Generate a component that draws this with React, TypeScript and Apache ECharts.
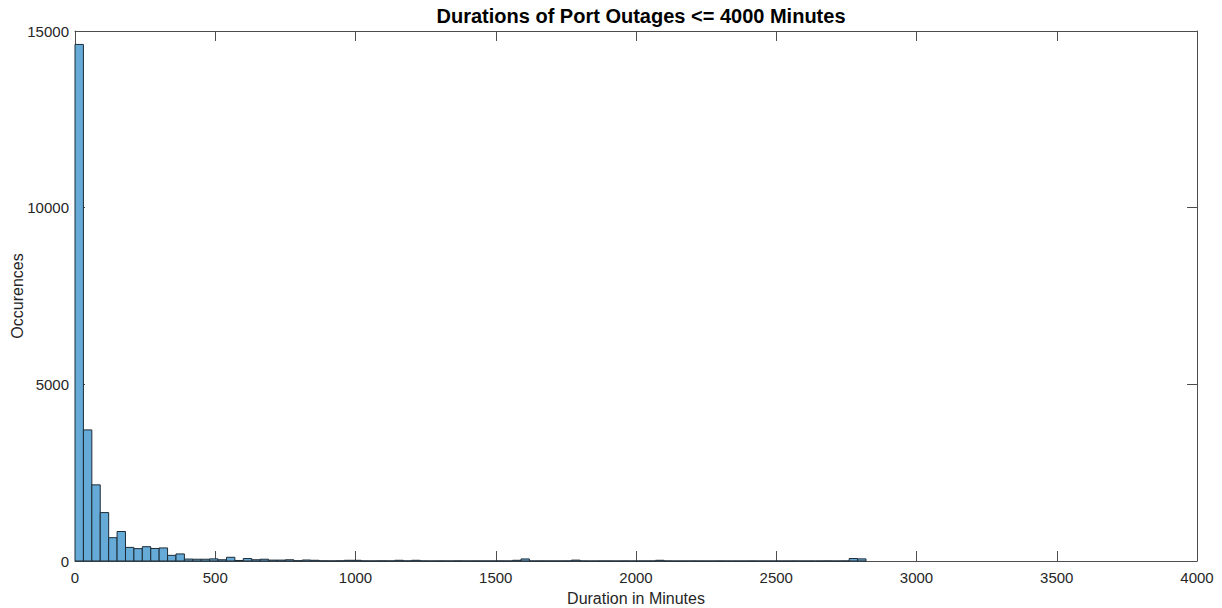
import React, { useEffect, useRef } from "react";
import * as echarts from "echarts";

// Histogram of outage durations, 30-minute bins starting at 0.
const BIN_WIDTH = 30;
const counts: number[] = [
  14620, 3710, 2155, 1370, 660, 835, 385, 350, 405, 355,
  370, 160, 200, 55, 50, 50, 60, 35, 105, 15,
  70, 35, 50, 25, 25, 35, 8, 28, 20, 4,
  3, 5, 20, 20, 3, 2, 4, 2, 20, 3,
  20, 2, 1, 2, 1, 3, 1, 2, 1, 1,
  2, 1, 20, 58, 1, 2, 1, 1, 2, 25,
  1, 0, 1, 1, 0, 1, 0, 1, 1, 20,
  1, 0, 0, 1, 0, 0, 1, 0, 0, 0,
  1, 0, 0, 0, 0, 1, 0, 0, 0, 1,
  0, 1, 70, 60,
];

const xTicks = [0, 500, 1000, 1500, 2000, 2500, 3000, 3500, 4000];
const yTicks = [0, 5000, 10000, 15000];

const TITLE = "Durations of Port Outages <= 4000 Minutes";
const X_NAME = "Duration in Minutes";
const Y_NAME = "Occurences";

const FONT = "'Liberation Sans', Arial, Helvetica, sans-serif";
const AXIS_COLOR = "#4d4d4d";
const TEXT_COLOR = "#262626";

export default function App() {
  const ref = useRef<HTMLDivElement>(null);

  useEffect(() => {
    if (!ref.current) return;
    const chart = echarts.init(ref.current, undefined, { renderer: "svg" });

    const data = counts.map((c, i) => [i * BIN_WIDTH, (i + 1) * BIN_WIDTH, c]);

    const xCommon = {
      type: "value" as const,
      min: xTicks[0],
      max: xTicks[xTicks.length - 1],
      interval: xTicks[1] - xTicks[0],
      splitLine: { show: false },
      axisLine: { show: true, onZero: false, lineStyle: { color: AXIS_COLOR, width: 1 } },
      axisTick: { show: true, inside: true, length: 10, lineStyle: { color: AXIS_COLOR } },
    };
    const yCommon = {
      type: "value" as const,
      min: yTicks[0],
      max: yTicks[yTicks.length - 1],
      interval: yTicks[1] - yTicks[0],
      splitLine: { show: false },
      axisLine: { show: true, onZero: false, lineStyle: { color: AXIS_COLOR, width: 1 } },
      axisTick: { show: true, inside: true, length: 10, lineStyle: { color: AXIS_COLOR } },
    };

    chart.setOption({
      animation: false,
      backgroundColor: "#ffffff",
      title: {
        text: TITLE,
        left: 636,
        textAlign: "center",
        top: 1,
        textStyle: { fontFamily: FONT, fontSize: 20, fontWeight: "bold", color: "#000000" },
      },
      grid: {
        left: 75,
        right: 25,
        top: 31,
        bottom: 47,
        containLabel: false,
        outerBoundsMode: "none",
      },
      xAxis: [
        {
          ...xCommon,
          position: "bottom",
          name: X_NAME,
          nameLocation: "middle",
          nameGap: 29,
          nameMoveOverlap: false,
          nameTextStyle: { fontFamily: FONT, fontSize: 16, color: TEXT_COLOR },
          axisLabel: {
            fontFamily: FONT,
            fontSize: 15,
            color: TEXT_COLOR,
            margin: 9,
            formatter: (v: number) => String(v),
          },
        },
        { ...xCommon, position: "top", axisLabel: { show: false } },
      ],
      yAxis: [
        {
          ...yCommon,
          position: "left",
          name: Y_NAME,
          nameLocation: "middle",
          nameGap: 50,
          nameMoveOverlap: false,
          nameTextStyle: { fontFamily: FONT, fontSize: 16, color: TEXT_COLOR },
          axisLabel: {
            fontFamily: FONT,
            fontSize: 15,
            color: TEXT_COLOR,
            margin: 6,
            formatter: (v: number) => String(v),
          },
        },
        { ...yCommon, position: "right", axisLabel: { show: false } },
      ],
      series: [
        {
          type: "custom",
          xAxisIndex: 0,
          yAxisIndex: 0,
          encode: { x: [0, 1], y: 2 },
          data,
          renderItem: (_params: any, api: any) => {
            const x0 = api.value(0);
            const x1 = api.value(1);
            const v = api.value(2);
            const p0 = api.coord([x0, 0]);
            const p1 = api.coord([x1, v]);
            return {
              type: "rect",
              shape: { x: p0[0], y: p1[1], width: p1[0] - p0[0], height: p0[1] - p1[1] },
              style: { fill: "#66aad7", stroke: "#1d2b36", lineWidth: 1 },
            };
          },
          z: 1,
        },
      ],
    });

    return () => chart.dispose();
  }, []);

  return (
    <div
      ref={ref}
      style={{ position: "fixed", left: 0, top: 0, width: 1222, height: 608, background: "#fff" }}
    />
  );
}
